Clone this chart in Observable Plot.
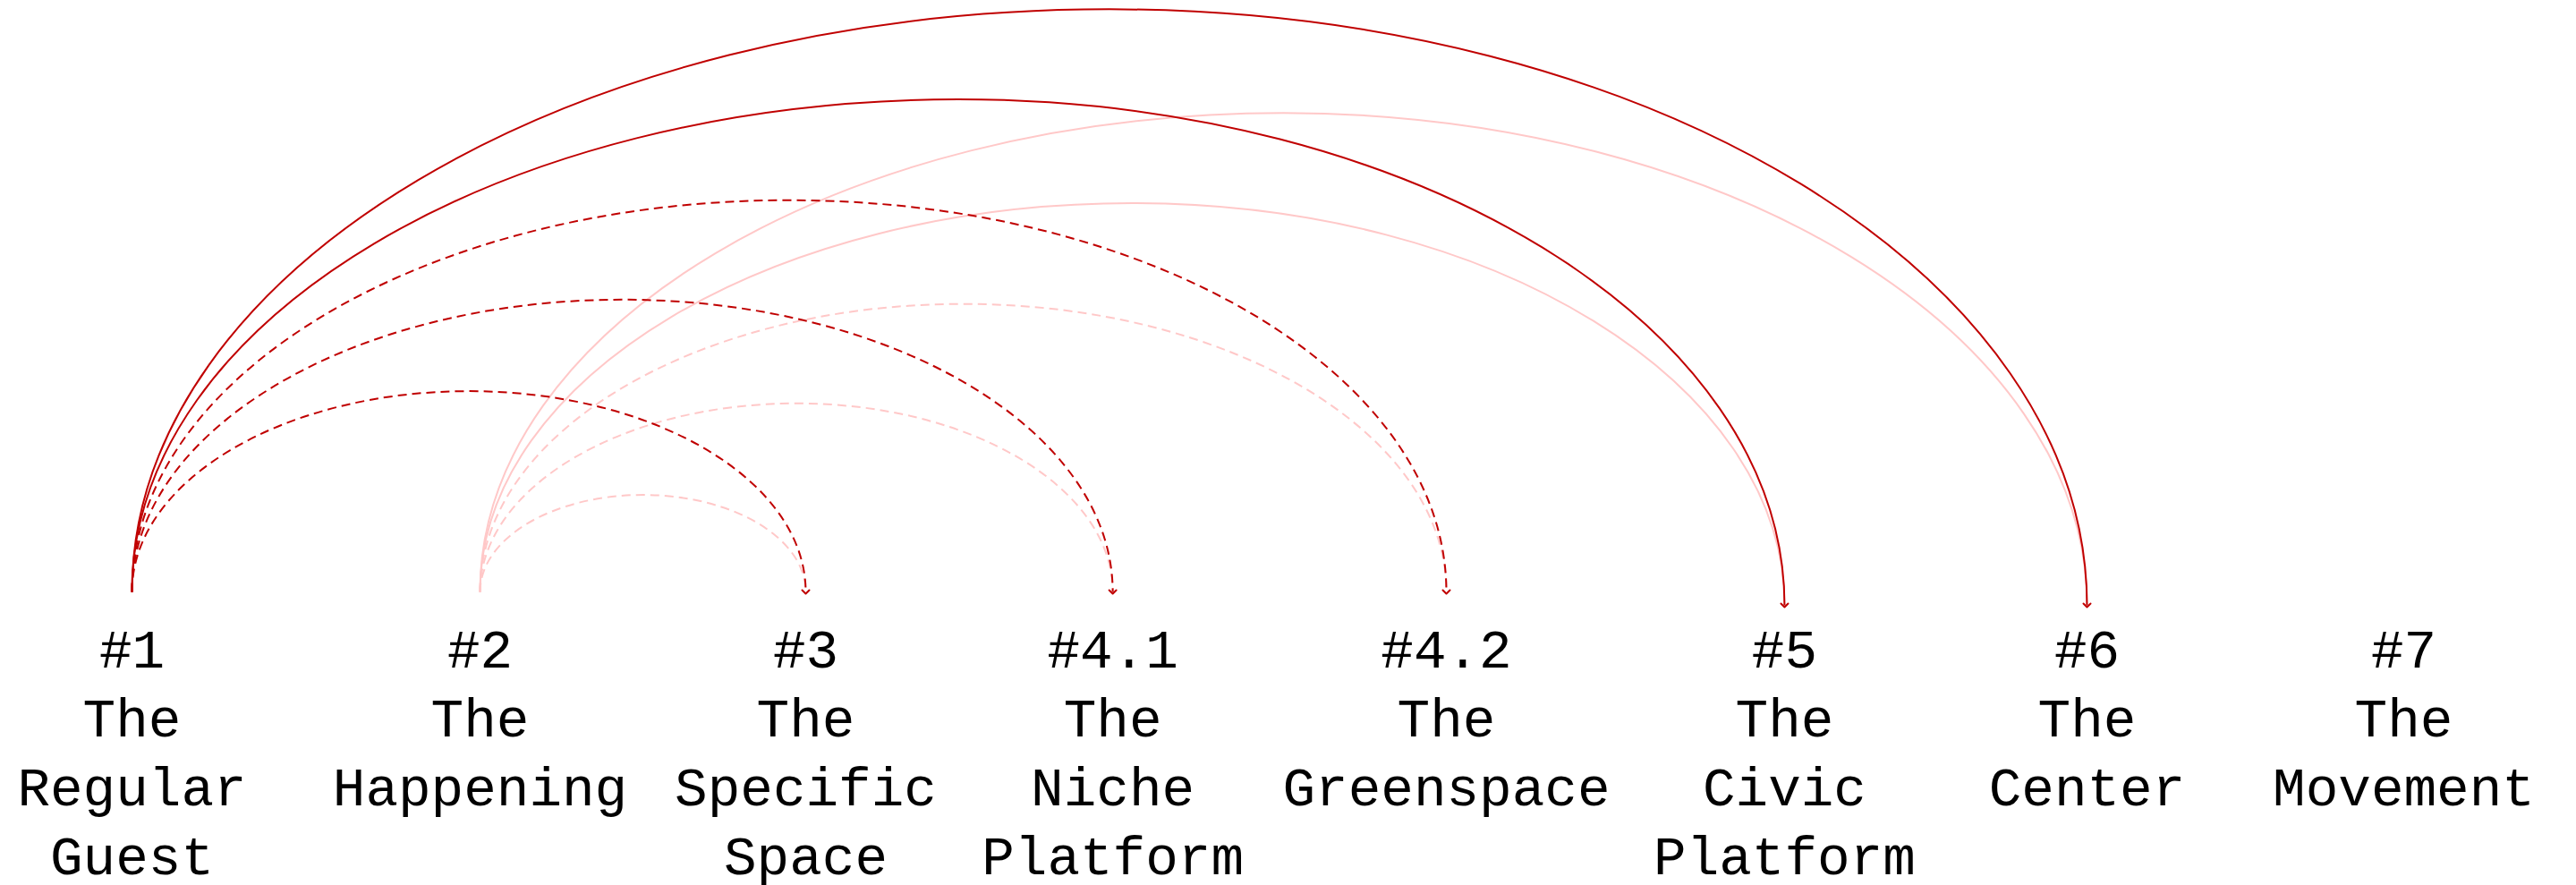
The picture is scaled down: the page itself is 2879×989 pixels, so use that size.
<!DOCTYPE html>
<html>
<head>
<meta charset="utf-8">
<script src="https://cdn.jsdelivr.net/npm/d3@7"></script>
<script src="https://cdn.jsdelivr.net/npm/@observablehq/plot@0.6"></script>
<style>
  html, body { margin: 0; padding: 0; background: #fff; }
  #chart svg { display: block; }
</style>
</head>
<body>
<div id="chart"></div>
<script>
// ---- data ----
const nodeIds   = ["#1", "#2", "#3", "#4.1", "#4.2", "#5", "#6", "#7"];
const nodeNames = ["The Regular Guest", "The Happening", "The Specific Space", "The Niche Platform",
                   "The Greenspace", "The Civic Platform", "The Center", "The Movement"];
// relative position of each node along the row
const nodePos   = [0, 1.0725, 2.076, 3.022, 4.05, 5.092, 6.024, 7];

const linkSource = ["#2", "#2", "#2", "#2", "#2", "#1", "#1", "#1", "#1", "#1"];
const linkTarget = ["#3", "#4.1", "#4.2", "#5", "#6", "#3", "#4.1", "#4.2", "#5", "#6"];
const linkKind   = ["dashed", "dashed", "dashed", "solid", "solid", "dashed", "dashed", "dashed", "solid", "solid"];
const linkGroup  = ["light", "light", "light", "light", "light", "dark", "dark", "dark", "dark", "dark"];

// ---- tables ----
const posOf = new Map(nodeIds.map((id, i) => [id, nodePos[i]]));
const nodes = nodeIds.map((id, i) => ({
  id, pos: nodePos[i],
  label: [id, ...nodeNames[i].split(" ")].join("\n")
}));
const links = linkSource.map((s, i) => ({
  source: s, target: linkTarget[i], kind: linkKind[i], group: linkGroup[i],
  x1: posOf.get(s), x2: posOf.get(linkTarget[i])
}));

// half-ellipse curve: vertical at both ends, height proportional to span
function halfEllipse(ratio, extend) {
  return (context) => {
    let pts = [];
    return {
      areaStart() {}, areaEnd() {},
      lineStart() { pts = []; },
      point(x, y) { pts.push([+x, +y]); },
      lineEnd() {
        if (pts.length < 2) return;
        const [x0, y0] = pts[0], [x1, y1b] = pts[pts.length - 1];
        const y1 = y1b + extend;
        const k = 0.5522847;
        const rx = (x1 - x0) / 2, cx = (x0 + x1) / 2;
        const ry = ratio * Math.abs(x1 - x0);
        const top = y0 - ry;
        context.moveTo(x0, y0);
        context.bezierCurveTo(x0, y0 - k * ry, cx - k * rx, top, cx, top);
        context.bezierCurveTo(cx + k * rx, top, x1, y1 - k * (y1 - top), x1, y1);
      }
    };
  };
}

const dark = "#c00000";
const light = "#ffc8c8";
const sel = (g, k) => links.filter(d => d.group === g && d.kind === k);

const chart = Plot.plot({
  width: 2879,
  height: 989,
  marginLeft: 147,
  marginRight: 193,
  marginTop: 0,
  marginBottom: 328,
  x: {domain: [0, 7], axis: null},
  y: {domain: [0, 1], axis: null},
  marks: [
    Plot.link(sel("light", "dashed"), {x1: "x1", x2: "x2", y1: () => 0, y2: () => 0,
      stroke: light, strokeWidth: 2, strokeDasharray: "10,6", curve: halfEllipse(0.298, 0)}),
    Plot.link(sel("light", "solid"), {x1: "x1", x2: "x2", y1: () => 0, y2: () => 0,
      stroke: light, strokeWidth: 2, curve: halfEllipse(0.298, 15)}),
    Plot.link(sel("dark", "dashed"), {x1: "x1", x2: "x2", y1: () => 0, y2: () => 0,
      stroke: dark, strokeWidth: 2, strokeDasharray: "10,6", markerEnd: "arrow", curve: halfEllipse(0.298, 0)}),
    Plot.link(sel("dark", "solid"), {x1: "x1", x2: "x2", y1: () => 0, y2: () => 0,
      stroke: dark, strokeWidth: 2, markerEnd: "arrow", curve: halfEllipse(0.298, 15)}),
    Plot.text(nodes, {x: "pos", y: () => 0, text: "label", lineAnchor: "top", dy: 30,
      fontSize: 61, lineHeight: 1.26, fontFamily: "Liberation Mono", fill: "#000"})
  ]
});
document.getElementById("chart").append(chart);
</script>
</body>
</html>
